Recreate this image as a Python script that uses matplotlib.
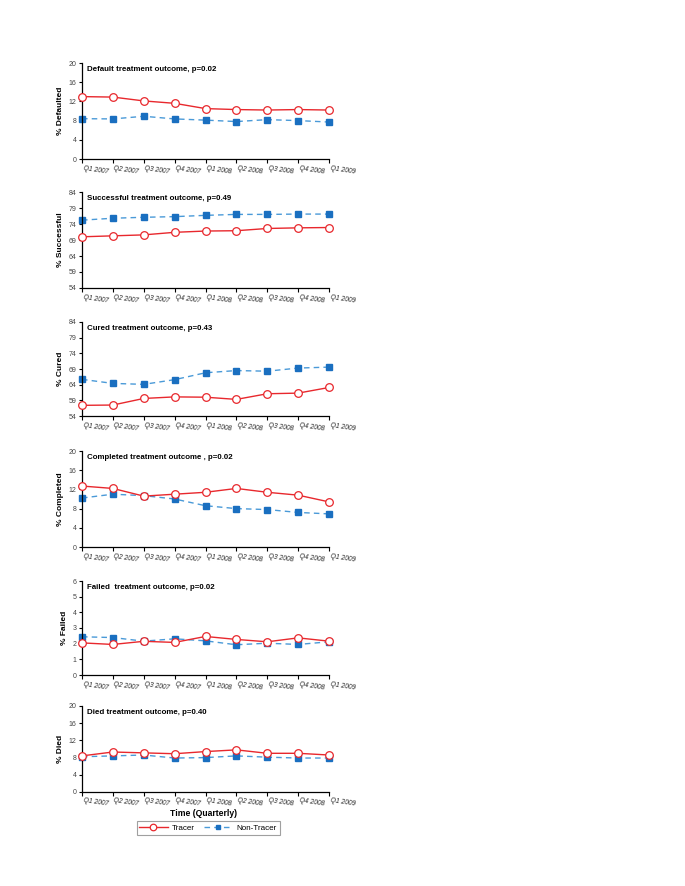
import matplotlib
matplotlib.use("Agg")
import matplotlib.pyplot as plt
import numpy as np

plt.rcParams['font.family'] = ['Liberation Sans', 'DejaVu Sans']

quarters = ["Q1 2007", "Q2 2007", "Q3 2007", "Q4 2007", "Q1 2008",
            "Q2 2008", "Q3 2008", "Q4 2008", "Q1 2009"]

titles = ["Default treatment outcome, p=0.02",
          "Successful treatment outcome, p=0.49",
          "Cured treatment outcome, p=0.43",
          "Completed treatment outcome , p=0.02",
          "Failed  treatment outcome, p=0.02",
          "Died treatment outcome, p=0.40"]
ylabels = ["% Defaulted", "% Successful", "% Cured", "% Completed", "% Failed", "% Died"]

tracer_default = [13.0, 12.9, 12.1, 11.6, 10.5, 10.3, 10.2, 10.3, 10.2]
nontracer_default = [8.4, 8.35, 8.9, 8.35, 8.1, 7.8, 8.2, 8.0, 7.7]
tracer_success = [70.0, 70.3, 70.6, 71.4, 71.8, 71.9, 72.6, 72.8, 72.9]
nontracer_success = [75.2, 75.8, 76.1, 76.3, 76.7, 77.0, 77.0, 77.1, 77.1]
tracer_cured = [57.4, 57.5, 59.6, 60.1, 60.0, 59.3, 61.1, 61.3, 63.1]
nontracer_cured = [65.7, 64.4, 64.1, 65.6, 67.8, 68.5, 68.3, 69.3, 69.6]
tracer_completed = [12.7, 12.2, 10.6, 11.0, 11.4, 12.2, 11.4, 10.8, 9.4]
nontracer_completed = [10.2, 11.0, 10.7, 10.0, 8.6, 8.0, 7.8, 7.2, 6.9]
tracer_failed = [2.05, 1.95, 2.15, 2.08, 2.46, 2.27, 2.12, 2.37, 2.16]
nontracer_failed = [2.44, 2.39, 2.16, 2.31, 2.18, 1.93, 2.03, 1.95, 2.12]
tracer_died = [8.4, 9.3, 9.1, 8.9, 9.4, 9.8, 9.0, 9.0, 8.6]
nontracer_died = [8.2, 8.4, 8.6, 7.9, 8.0, 8.4, 8.1, 7.9, 7.9]

tracers = [tracer_default, tracer_success, tracer_cured, tracer_completed, tracer_failed, tracer_died]
nontracers = [nontracer_default, nontracer_success, nontracer_cured, nontracer_completed, nontracer_failed, nontracer_died]
yticks = [[0, 4, 8, 12, 16, 20], [54, 59, 64, 69, 74, 79, 84], [54, 59, 64, 69, 74, 79, 84],
          [0, 4, 8, 12, 16, 20], [0, 1, 2, 3, 4, 5, 6], [0, 4, 8, 12, 16, 20]]

W, H = 685, 886
fig = plt.figure(figsize=(W / 100, H / 100), dpi=100)

tops = [63, 192, 322, 451, 581, 706]
bottoms = [159, 288, 416, 547, 675, 792]
x0, x1 = 82, 329

red = '#e8282d'
blue = '#1a6fc0'
lblue = '#4a9ad8'

x = np.arange(len(quarters))
for i in range(6):
    ax = fig.add_axes([x0 / W, 1 - bottoms[i] / H, (x1 - x0) / W, (bottoms[i] - tops[i]) / H])
    ax.plot(x, nontracers[i], color=lblue, linestyle=(0, (4, 3)), linewidth=1.0,
            marker='s', markersize=4.0, markerfacecolor=blue, markeredgecolor=blue, zorder=2,
            label='Non-Tracer')
    ax.plot(x, tracers[i], color=red, linewidth=1.0, marker='o', markersize=5.5,
            markerfacecolor='white', markeredgecolor=red, markeredgewidth=0.9, zorder=3,
            label='Tracer')
    ax.set_xlim(0, 8)
    ax.set_ylim(yticks[i][0], yticks[i][-1])
    ax.set_yticks(yticks[i])
    ax.set_xticks(x)
    ax.set_xticklabels([])
    for xi, q in zip(x, quarters):
        ax.text(xi + 0.05, -0.06, q, transform=ax.get_xaxis_transform(), fontsize=4.8,
                rotation=-8, rotation_mode='anchor', ha='left', va='top', color='#222222',
                style='italic')
    ax.tick_params(axis='y', labelsize=5.0, length=2, width=0.8, pad=2, labelcolor='#444444')
    ax.tick_params(axis='x', length=3, width=0.8, direction='out')
    for s in ['top', 'right']:
        ax.spines[s].set_visible(False)
    for s in ['left', 'bottom']:
        ax.spines[s].set_linewidth(0.9)
    for ln in ax.lines:
        ln.set_clip_on(False)
    ax.text(0.022, 0.97, titles[i], transform=ax.transAxes, fontsize=5.7, fontweight='bold',
            ha='left', va='top')
    ax.set_ylabel(ylabels[i], fontsize=6.0, fontweight='bold', labelpad=3)

fig.text(203 / W, 1 - 813 / H, "Time (Quarterly)", fontsize=6.2, fontweight='bold', ha='center', va='center')

h, l = ax.get_legend_handles_labels()
leg = fig.legend([h[1], h[0]], [l[1], l[0]], loc='center', bbox_to_anchor=(208 / W, 1 - 828 / H),
                 ncol=2, fontsize=5.8, frameon=True, fancybox=False, edgecolor='#888888',
                 handlelength=3.5, columnspacing=1.2, borderpad=0.35, handletextpad=0.5, markerscale=0.85)
leg.get_frame().set_linewidth(0.8)

fig.savefig('out.png', dpi=100)
